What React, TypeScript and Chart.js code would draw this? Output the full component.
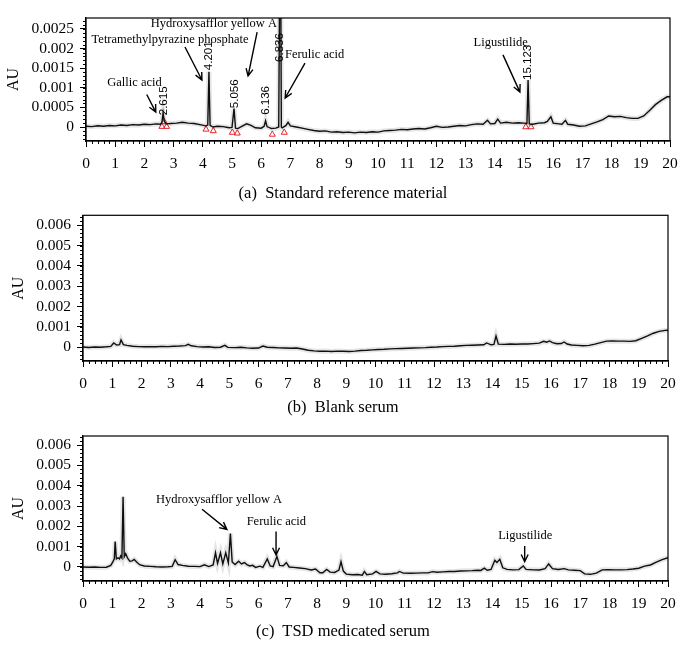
import React, { useEffect, useRef } from 'react';
import { Chart, registerables } from 'chart.js';

Chart.register(...registerables);

// ---------- data ----------
const X_TICKS = [0, 1, 2, 3, 4, 5, 6, 7, 8, 9, 10, 11, 12, 13, 14, 15, 16, 17, 18, 19, 20];

const Y_TICKS_A = [0, 0.0005, 0.001, 0.0015, 0.002, 0.0025];
const Y_LABELS_A = ['0', '0.0005', '0.001', '0.0015', '0.002', '0.0025'];
const Y_TICKS_BC = [0, 0.001, 0.002, 0.003, 0.004, 0.005, 0.006];
const Y_LABELS_BC = ['0', '0.001', '0.002', '0.003', '0.004', '0.005', '0.006'];

// (a) Standard reference material
const TIME_A = [0.0, 0.2, 0.4, 0.6, 0.8, 1.0, 1.2, 1.4, 1.6, 1.8, 2.0, 2.2, 2.4, 2.55, 2.6, 2.64, 2.68, 2.75, 2.9, 3.1, 3.3, 3.5, 3.7, 3.9, 4.1, 4.17, 4.21, 4.25, 4.35, 4.5, 4.7, 4.9, 5.0, 5.07, 5.12, 5.2, 5.35, 5.5, 5.65, 5.8, 6.0, 6.1, 6.15, 6.2, 6.35, 6.5, 6.6, 6.63, 6.67, 6.69, 6.72, 6.85, 6.92, 7.0, 7.2, 7.4, 7.6, 7.8, 8.0, 8.2, 8.4, 8.6, 8.8, 9.0, 9.2, 9.4, 9.6, 9.8, 10.0, 10.2, 10.4, 10.6, 10.8, 11.0, 11.2, 11.4, 11.6, 11.8, 12.0, 12.2, 12.4, 12.6, 12.8, 13.0, 13.2, 13.4, 13.6, 13.75, 13.85, 14.0, 14.1, 14.2, 14.4, 14.6, 14.8, 15.0, 15.1, 15.14, 15.18, 15.3, 15.5, 15.7, 15.8, 15.92, 16.0, 16.2, 16.3, 16.42, 16.5, 16.7, 16.9, 17.1, 17.3, 17.5, 17.7, 17.9, 18.1, 18.3, 18.5, 18.7, 18.9, 19.1, 19.3, 19.5, 19.7, 19.9, 20.0];
const AU_A = [0.00002, 0.00001, 0.00003, 0.00002, 0.00004, 0.00003, 0.00005, 0.00004, 0.00006, 0.00005, 0.00007, 0.00006, 0.00008, 0.00007, 0.00012, 0.00036, 0.00015, 0.00008, 0.00009, 0.0001, 0.00012, 0.0001, 0.00009, 0.00006, 0.00003, 0.00005, 0.00141, 0.00004, 0.0, 0.00002, 0.00001, -0.00002, -0.00001, 0.00047, -0.00003, -0.00004, 0.00002, 0.00008, 0.00004, -0.00002, -0.00003, 0.00002, 0.00016, 0.00001, -0.00004, -0.00003, 0.0, 0.0035, 0.0035, 0.0, -0.00002, 0.00004, 0.00012, 0.00003, 0.0, -0.00003, -0.00006, -0.00009, -0.00011, -0.0001, -0.00013, -0.00012, -0.00014, -0.00013, -0.00015, -0.00013, -0.00014, -0.00012, -0.00013, -0.0001, -0.00009, -0.00008, -0.00006, -0.00007, -0.00005, -0.00004, -0.00005, -0.00002, 0.00002, -0.00001, 0.0, 0.00002, 0.00004, 0.00003, 0.00006, 0.00008, 0.00007, 0.00017, 0.00008, 0.00009, 0.0002, 0.0001, 0.00012, 0.0001, 0.00011, 0.0001, 0.00009, 0.0012, 0.00008, 0.00007, 0.0001, 0.00011, 0.00014, 0.00026, 0.0001, 0.00008, 0.00007, 0.00017, 0.00007, 0.00005, 0.00002, 0.00003, 0.00008, 0.00013, 0.00019, 0.00028, 0.00026, 0.00027, 0.00024, 0.00022, 0.00022, 0.00028, 0.00042, 0.00057, 0.00068, 0.00077, 0.00077];
const TRI_T_A = [2.6, 2.68, 2.76, 4.11, 4.36, 5.01, 5.18, 6.38, 6.79, 15.06, 15.24];
const TRI_V_A = [0.00001, 0.00013, 0.00001, -0.00006, -0.0001, -0.00014, -0.00016, -0.00019, -0.00014, 0.0, 0.0];

// (b) Blank serum
const TIME_B = [0.0, 0.2, 0.4, 0.6, 0.8, 0.95, 1.05, 1.15, 1.25, 1.3, 1.38, 1.5, 1.7, 1.9, 2.1, 2.3, 2.5, 2.7, 2.9, 3.1, 3.3, 3.5, 3.6, 3.7, 3.9, 4.1, 4.3, 4.5, 4.7, 4.85, 4.95, 5.2, 5.4, 5.6, 5.8, 6.0, 6.15, 6.3, 6.5, 6.7, 6.9, 7.1, 7.3, 7.5, 7.7, 7.9, 8.1, 8.3, 8.5, 8.7, 8.9, 9.1, 9.3, 9.5, 9.7, 9.9, 10.1, 10.3, 10.5, 10.7, 10.9, 11.1, 11.3, 11.5, 11.7, 11.9, 12.1, 12.3, 12.5, 12.7, 12.9, 13.1, 13.3, 13.5, 13.7, 13.8, 13.95, 14.05, 14.12, 14.2, 14.4, 14.6, 14.8, 15.0, 15.2, 15.4, 15.6, 15.75, 15.85, 15.95, 16.05, 16.2, 16.35, 16.45, 16.55, 16.7, 16.9, 17.1, 17.3, 17.5, 17.7, 17.9, 18.1, 18.3, 18.5, 18.7, 18.9, 19.1, 19.3, 19.5, 19.7, 19.9, 20.0];
const AU_B = [0.0, -0.00002, 0.0, -0.00001, 0.00001, 0.00003, 0.0002, 0.0001, 0.00012, 0.00035, 0.00012, 0.00008, 0.00004, 0.00002, 0.00001, 0.00002, 0.00001, 0.00003, 0.00002, 0.00004, 0.00005, 0.00007, 0.00013, 0.00006, 0.00002, 0.0, 0.00001, -0.00002, -0.00001, 0.00008, -0.00002, -0.00003, -0.00001, -0.00004, -0.00006, -0.00005, 0.00005, -0.00001, -0.00002, -0.00004, -0.00005, -0.00006, -0.00005, -0.0001, -0.00016, -0.00019, -0.00021, -0.0002, -0.00022, -0.0002, -0.00021, -0.00022, -0.0002, -0.00017, -0.00016, -0.00014, -0.00012, -0.00011, -0.00009, -0.00008, -0.00007, -0.00006, -0.00005, -0.00004, -0.00003, -0.00001, 0.0, 0.00002, 0.00003, 0.00004, 0.00006, 0.00008, 0.00009, 0.0001, 0.00011, 0.0002, 0.00011, 0.00013, 0.00054, 0.00014, 0.00013, 0.00015, 0.00014, 0.00015, 0.00015, 0.00017, 0.00019, 0.00028, 0.00024, 0.0003, 0.00022, 0.00016, 0.00017, 0.00025, 0.00015, 0.0001, 0.00008, 0.00006, 0.00008, 0.00014, 0.00022, 0.00029, 0.0003, 0.00029, 0.00029, 0.00028, 0.00031, 0.00043, 0.00055, 0.00068, 0.00077, 0.00082, 0.00083];

// (c) TSD medicated serum
const TIME_C = [0.0, 0.2, 0.4, 0.6, 0.8, 0.95, 1.02, 1.07, 1.1, 1.14, 1.2, 1.25, 1.29, 1.33, 1.37, 1.41, 1.46, 1.52, 1.6, 1.68, 1.75, 1.85, 1.95, 2.1, 2.3, 2.5, 2.7, 2.9, 3.05, 3.15, 3.25, 3.4, 3.6, 3.8, 4.0, 4.15, 4.3, 4.45, 4.53, 4.6, 4.7, 4.78, 4.88, 4.97, 5.04, 5.1, 5.2, 5.32, 5.42, 5.52, 5.6, 5.7, 5.8, 5.9, 6.05, 6.15, 6.3, 6.4, 6.5, 6.63, 6.72, 6.85, 6.95, 7.05, 7.2, 7.4, 7.6, 7.8, 7.95, 8.1, 8.2, 8.33, 8.45, 8.6, 8.75, 8.82, 8.9, 9.0, 9.2, 9.4, 9.55, 9.62, 9.7, 9.9, 10.02, 10.15, 10.35, 10.55, 10.75, 10.82, 10.95, 11.2, 11.4, 11.6, 11.8, 11.95, 12.1, 12.3, 12.5, 12.7, 12.9, 13.1, 13.3, 13.5, 13.6, 13.72, 13.82, 13.95, 14.08, 14.15, 14.25, 14.35, 14.5, 14.7, 14.9, 15.05, 15.15, 15.4, 15.6, 15.8, 15.92, 16.05, 16.25, 16.45, 16.6, 16.8, 17.0, 17.15, 17.35, 17.55, 17.75, 17.95, 18.2, 18.4, 18.6, 18.8, 19.0, 19.2, 19.4, 19.6, 19.8, 20.0];
const AU_C = [0.0, -0.00001, 0.0, -0.00002, -0.00001, 0.00008, 0.00025, 0.0004, 0.00125, 0.0004, 0.00045, 0.0004, 0.00055, 0.00045, 0.00345, 0.0005, 0.00065, 0.00045, 0.00028, 0.0003, 0.00037, 0.00022, 0.0001, 0.00005, 0.00003, 0.00001, 0.0, 0.00001, 0.00003, 0.00036, 0.00012, 0.00008, 0.00004, 0.00003, 0.00002, 0.00011, 0.00002, 0.0001, 0.0007, 0.00018, 0.0007, 0.00015, 0.0007, 0.0002, 0.00165, 0.00025, 0.00012, 0.00028, 0.00015, 0.00022, 0.00012, 0.00005, 0.00008, -0.00002, 0.00004, -0.00002, 0.0004, 0.00005, 0.00002, 0.00052, 0.00008, 0.00006, 0.00022, 0.0, -0.00002, -0.00005, -0.00008, -0.00015, -0.0001, -0.00028, -0.00028, -0.00012, -0.00025, -0.00027, -0.00015, 0.00026, -0.0002, -0.00035, -0.00038, -0.00037, -0.0004, -0.00022, -0.00038, -0.00034, -0.00022, -0.00034, -0.00036, -0.00033, -0.00029, -0.00022, -0.0003, -0.00031, -0.0003, -0.00029, -0.00029, -0.00023, -0.00026, -0.00024, -0.00022, -0.00022, -0.0002, -0.00019, -0.00018, -0.00016, -0.00017, -0.00006, -0.00016, -0.00012, 0.00033, 0.00022, 0.00038, -0.00004, -0.00012, -0.00014, -0.00013, 0.00005, -0.00012, -0.00014, -0.00015, -0.00008, 0.00015, -0.00008, -0.00012, -0.00008, -0.00014, -0.00016, -0.00018, -0.00034, -0.00036, -0.0003, -0.00014, -0.00013, -0.00014, -0.00014, -0.00013, -0.0001, -0.00006, 0.00004, 0.0001, 0.00024, 0.00036, 0.00046];

const COMPOUNDS = ['Gallic acid', 'Tetramethylpyrazine phosphate', 'Hydroxysafflor yellow A', 'Ferulic acid', 'Ligustilide'];
const PEAK_LABELS_A = ['2.615', '4.201', '5.056', '6.136', '6.836', '15.123'];
const CAPTIONS = ['(a)  Standard reference material', '(b)  Blank serum', '(c)  TSD medicated serum'];

// ---------- layout / annotation config ----------
const W = 694;
const SERIF = '"Liberation Serif", "DejaVu Serif", serif';
const SANS = '"Liberation Sans", Arial, sans-serif';

const PANELS = [
  {
    top: 0, height: 200,
    area: { left: 86, right: 670, top: 18, bottom: 141 },
    yMin: -0.000357, yMax: 0.00278, minorY: 0.0001,
    yTicks: Y_TICKS_A, yLabels: Y_LABELS_A,
    time: TIME_A, au: AU_A, triT: TRI_T_A, triV: TRI_V_A,
    auX: 14,
    texts: [
      { s: COMPOUNDS[0], x: 1.66, y: 0.00112 },
      { s: COMPOUNDS[1], x: 2.88, y: 0.00222 },
      { s: COMPOUNDS[2], x: 4.38, y: 0.00263 },
      { s: COMPOUNDS[3], x: 7.83, y: 0.00184 },
      { s: COMPOUNDS[4], x: 14.2, y: 0.00214 },
    ],
    arrows: [
      [2.08, 0.00083, 2.39, 0.00038],
      [3.39, 0.00204, 3.97, 0.0012],
      [5.86, 0.00242, 5.55, 0.0013],
      [7.5, 0.00163, 6.82, 0.00074],
      [14.28, 0.00184, 14.86, 0.00089],
    ],
    peaks: [
      { s: PEAK_LABELS_A[0], x: 2.65, y: 0.0003 },
      { s: PEAK_LABELS_A[1], x: 4.22, y: 0.00145 },
      { s: PEAK_LABELS_A[2], x: 5.09, y: 0.00048 },
      { s: PEAK_LABELS_A[3], x: 6.15, y: 0.00031 },
      { s: PEAK_LABELS_A[4], x: 6.64, y: 0.00166 },
      { s: PEAK_LABELS_A[5], x: 15.13, y: 0.0012 },
    ],
  },
  {
    top: 200, height: 220,
    area: { left: 83, right: 668, top: 15, bottom: 161 },
    yMin: -0.000689, yMax: 0.006493, minorY: 0.0002,
    yTicks: Y_TICKS_BC, yLabels: Y_LABELS_BC,
    time: TIME_B, au: AU_B, triT: [], triV: [],
    auX: 19,
    texts: [], arrows: [], peaks: [],
  },
  {
    top: 420, height: 229,
    area: { left: 83, right: 668, top: 16, bottom: 161 },
    yMin: -0.000689, yMax: 0.006444, minorY: 0.0002,
    yTicks: Y_TICKS_BC, yLabels: Y_LABELS_BC,
    time: TIME_C, au: AU_C, triT: [], triV: [],
    auX: 19,
    texts: [
      { s: COMPOUNDS[2], x: 4.65, y: 0.0033 },
      { s: COMPOUNDS[3], x: 6.61, y: 0.00223 },
      { s: COMPOUNDS[4], x: 15.12, y: 0.00152 },
    ],
    arrows: [
      [4.07, 0.00284, 4.92, 0.00185],
      [6.6, 0.00174, 6.6, 0.00059],
      [15.1, 0.00103, 15.1, 0.00026],
    ],
    peaks: [],
  },
];

const CAPTION_Y = [193, 407, 631];

const decorPlugin = {
  id: 'panelDecor',
  afterDraw(chart: any, _args: any, opts: any) {
    const cfg = opts.cfg;
    const { ctx, chartArea } = chart;
    const xs = chart.scales.x;
    const ys = chart.scales.y;
    ctx.save();
    // box
    ctx.strokeStyle = '#000';
    ctx.lineWidth = 1.2;
    ctx.strokeRect(chartArea.left, chartArea.top, chartArea.right - chartArea.left, chartArea.bottom - chartArea.top);
    // minor ticks x
    ctx.lineWidth = 1;
    ctx.beginPath();
    for (let i = 0; i <= 100; i++) {
      if (i % 5 === 0) continue;
      const px = Math.round(xs.getPixelForValue(i * 0.2)) + 0.5;
      ctx.moveTo(px, chartArea.bottom);
      ctx.lineTo(px, chartArea.bottom + 3);
    }
    // minor ticks y
    const n = Math.floor((cfg.yMax - cfg.yMin) / cfg.minorY) + 2;
    const start = Math.ceil(cfg.yMin / cfg.minorY);
    for (let k = start; k < start + n; k++) {
      const v = k * cfg.minorY;
      if (v > cfg.yMax || v < cfg.yMin) continue;
      const py = Math.round(ys.getPixelForValue(v)) + 0.5;
      ctx.moveTo(chartArea.left, py);
      ctx.lineTo(chartArea.left - 3, py);
    }
    ctx.stroke();
    // AU label
    ctx.fillStyle = '#000';
    ctx.font = '16px ' + SERIF;
    ctx.textAlign = 'center';
    ctx.textBaseline = 'middle';
    ctx.save();
    ctx.translate(cfg.auX, (chartArea.top + chartArea.bottom) / 2);
    ctx.rotate(-Math.PI / 2);
    ctx.fillText('AU', 0, 0);
    ctx.restore();
    // compound texts
    ctx.font = '12.5px ' + SERIF;
    for (const t of cfg.texts) {
      ctx.fillText(t.s, xs.getPixelForValue(t.x), ys.getPixelForValue(t.y));
    }
    // arrows
    ctx.lineWidth = 1.4;
    for (const a of cfg.arrows) {
      const x1 = xs.getPixelForValue(a[0]);
      const y1 = ys.getPixelForValue(a[1]);
      const x2 = xs.getPixelForValue(a[2]);
      const y2 = ys.getPixelForValue(a[3]);
      const ang = Math.atan2(y2 - y1, x2 - x1);
      const hl = 8;
      ctx.beginPath();
      ctx.moveTo(x1, y1);
      ctx.lineTo(x2, y2);
      ctx.moveTo(x2 - hl * Math.cos(ang - 0.45), y2 - hl * Math.sin(ang - 0.45));
      ctx.lineTo(x2, y2);
      ctx.lineTo(x2 - hl * Math.cos(ang + 0.45), y2 - hl * Math.sin(ang + 0.45));
      ctx.stroke();
    }
    // peak labels
    ctx.font = '11.5px ' + SANS;
    ctx.textAlign = 'left';
    for (const p of cfg.peaks) {
      ctx.save();
      ctx.translate(xs.getPixelForValue(p.x), ys.getPixelForValue(p.y));
      ctx.rotate(-Math.PI / 2);
      ctx.fillText(p.s, 0, 0);
      ctx.restore();
    }
    ctx.restore();
  },
};

function Panel({ cfg }: { cfg: any }) {
  const ref = useRef<HTMLCanvasElement | null>(null);
  useEffect(() => {
    const canvas = ref.current;
    if (!canvas) return;
    const pts = cfg.time.map((t: number, i: number) => ({ x: t, y: cfg.au[i] }));
    const tri = cfg.triT.map((t: number, i: number) => ({ x: t, y: cfg.triV[i] }));
    const chart = new Chart(canvas, {
      type: 'line',
      data: {
        datasets: [
          { data: pts, borderColor: 'rgba(0,0,0,0.10)', borderWidth: 5, pointRadius: 0, tension: 0 },
          { data: pts, borderColor: '#111', borderWidth: 1.4, pointRadius: 0, tension: 0 },
          { data: tri, showLine: false, pointStyle: 'triangle', pointRadius: 3.5, borderColor: '#e8222a', backgroundColor: 'rgba(255,255,255,0)', pointBorderWidth: 1, borderWidth: 1 } as any,
        ],
      },
      options: {
        responsive: false,
        animation: false,
        devicePixelRatio: 1,
        events: [],
        layout: { padding: { left: 0, top: cfg.area.top, right: W - cfg.area.right, bottom: 0 } },
        plugins: { legend: { display: false }, tooltip: { enabled: false }, panelDecor: { cfg } } as any,
        scales: {
          x: {
            type: 'linear', min: 0, max: 20,
            afterBuildTicks: (s: any) => { s.ticks = X_TICKS.map((v) => ({ value: v })); },
            afterFit: (s: any) => { s.height = cfg.height - cfg.area.bottom; },
            grid: { drawOnChartArea: false, drawTicks: true, tickLength: 6, color: '#000', lineWidth: 1 },
            border: { display: true, color: '#000', width: 1.2 },
            ticks: { autoSkip: false, maxRotation: 0, color: '#000', padding: 8, font: { family: SERIF, size: 15.5 }, callback: (v: any) => String(v) },
          },
          y: {
            type: 'linear', min: cfg.yMin, max: cfg.yMax,
            afterBuildTicks: (s: any) => { s.ticks = cfg.yTicks.map((v: number) => ({ value: v })); },
            afterFit: (s: any) => { s.width = cfg.area.left; },
            grid: { drawOnChartArea: false, drawTicks: true, tickLength: 6, color: '#000', lineWidth: 1 },
            border: { display: true, color: '#000', width: 1.2 },
            ticks: { autoSkip: false, color: '#000', padding: 6, font: { family: SERIF, size: 15.5 }, callback: (_v: any, i: number) => cfg.yLabels[i] },
          },
        },
      } as any,
      plugins: [decorPlugin],
    });
    return () => chart.destroy();
  }, []);
  return (
    <canvas
      ref={ref}
      width={W}
      height={cfg.height}
      style={{ position: 'absolute', left: 0, top: cfg.top, width: W, height: cfg.height }}
    />
  );
}

export default function App() {
  return (
    <div style={{ position: 'absolute', left: 0, top: 0, width: W, height: 649, background: '#fff', overflow: 'hidden' }}>
      {PANELS.map((p, i) => (
        <Panel key={i} cfg={p} />
      ))}
      {CAPTIONS.map((c, i) => (
        <div
          key={'c' + i}
          style={{
            position: 'absolute', left: 0, width: 686, top: CAPTION_Y[i] - 10, height: 20, lineHeight: '20px',
            textAlign: 'center', whiteSpace: 'pre', fontFamily: SERIF, fontSize: 16.5, color: '#000',
          }}
        >
          {c}
        </div>
      ))}
    </div>
  );
}
